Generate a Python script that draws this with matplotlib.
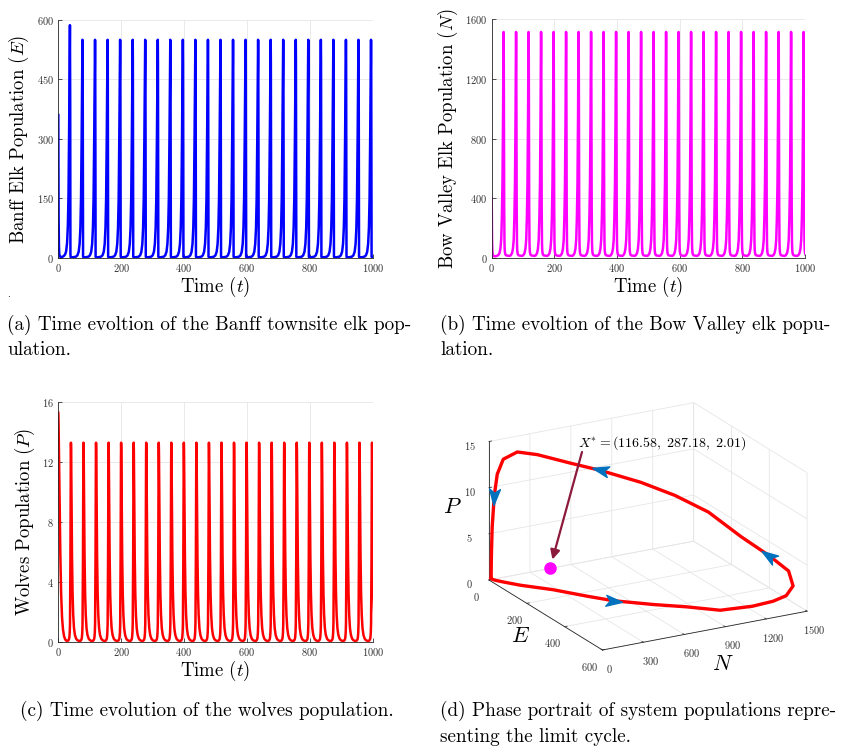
import numpy as np
import matplotlib
matplotlib.use("Agg")
import matplotlib.pyplot as plt
from matplotlib.markers import MarkerStyle
from matplotlib.path import Path
from mpl_toolkits.mplot3d import proj3d

plt.rcParams['font.family'] = 'cmr10'
plt.rcParams['mathtext.fontset'] = 'cm'
plt.rcParams['axes.formatter.use_mathtext'] = True
plt.rcParams['grid.color'] = '#e6e6e6'
plt.rcParams['grid.linewidth'] = 0.6

# start of the run, up to the first E peak (t, E, N, P)
start_t = [0.0, 0.4, 1.0, 2.0, 3.0, 4.5, 6.5, 9.0, 12.0, 15.0, 18.5, 22.0, 24.9,
           27.9, 30.4, 32.4, 33.7, 34.4, 35.2, 35.8, 36.3, 36.7, 37.0]
start_E = [360, 220, 100, 30, 10, 4, 2, 1.5, 2, 3, 5, 9, 16,
           37, 80, 157, 250, 320, 405, 478, 555, 585, 587]
start_N = [400, 250, 120, 45, 22, 14, 11, 10, 10, 11, 14, 20, 31,
           61, 124, 265, 395, 495, 675, 830, 975, 1170, 1320]
start_P = [15.3, 15.1, 14.4, 12.8, 11.0, 8.6, 5.8, 3.2, 1.6, 0.8, 0.35, 0.15, 0.08,
           0.06, 0.06, 0.1, 0.15, 0.2, 0.3, 0.45, 0.6, 0.8, 0.95]

# one period of the limit cycle, u = time inside the period
period = 39.9
first_cycle_start = 16.9
n_cycles = 25
cycle_u = [0, 4, 8, 11, 13.5, 15.5, 16.8, 17.5, 18.3, 18.9, 19.4, 19.8, 20.1,
           20.32, 20.55, 20.77, 21.0, 21.22, 21.44, 21.67, 21.96, 22.26, 22.56,
           22.93, 23.3, 23.9, 24.5, 25.3, 26.7, 28.5, 30.5, 33.0, 36.0]
cycle_E = [3, 6, 15, 35, 76, 149, 237, 302, 383, 450, 522, 548, 550,
           545, 526, 495, 389, 247, 100, 10, 3, 2, 1.5,
           1.2, 1, 1, 1, 1, 1, 1.1, 1.2, 1.5, 2]
cycle_N = [12, 16, 30, 60, 122, 262, 390, 491, 673, 829, 971, 1170, 1320,
           1423, 1500, 1510, 1515, 1505, 1470, 1350, 1110, 816, 596,
           353, 206, 103, 59, 37, 22, 17, 15, 14, 13]
cycle_P = [0.2, 0.1, 0.06, 0.05, 0.06, 0.1, 0.15, 0.2, 0.3, 0.45, 0.6, 0.8, 0.95,
           1.2, 1.8, 3.0, 3.3, 3.6, 4.5, 5.5, 7.5, 9.6, 11.0,
           12.6, 13.3, 12.8, 11.3, 9.0, 5.7, 3.2, 1.8, 0.9, 0.45]

arrow_idx = [7, 16, 21, 27]
X_star = (116.58, 287.18, 2.01)

# full time series: start segment then repeated periods
t_parts, E_parts, N_parts, P_parts = [start_t], [start_E], [start_N], [start_P]
for k in range(n_cycles):
    tt = first_cycle_start + k * period + np.array(cycle_u)
    keep = tt > start_t[-1]
    t_parts.append(tt[keep])
    E_parts.append(np.array(cycle_E)[keep])
    N_parts.append(np.array(cycle_N)[keep])
    P_parts.append(np.array(cycle_P)[keep])
t = np.concatenate(t_parts)
E = np.concatenate(E_parts)
N = np.concatenate(N_parts)
P = np.concatenate(P_parts)

W, H = 857, 754
fig = plt.figure(figsize=(W / 100, H / 100), dpi=100)


def rect(x0, y0, x1, y1):
    return [x0 / W, 1 - y1 / H, (x1 - x0) / W, (y1 - y0) / H]


def ts_panel(r, y, color, ymax, yticks, ylabel):
    ax = fig.add_axes(r)
    ax.plot(t, y, color=color, lw=1.8)
    ax.set_xlim(0, 1000)
    ax.set_ylim(0, ymax)
    ax.set_xticks(range(0, 1001, 200))
    ax.set_yticks(yticks)
    ax.grid(True)
    ax.set_axisbelow(True)
    ax.tick_params(direction='in', length=3, width=0.6, labelsize=7.5,
                   colors='#333333', pad=3)
    for s in ['top', 'right']:
        ax.spines[s].set_visible(False)
    for s in ['left', 'bottom']:
        ax.spines[s].set_color('#262626')
        ax.spines[s].set_linewidth(0.6)
    ax.set_xlabel('Time ($t$)', fontsize=13.5, labelpad=1)
    ax.set_ylabel(ylabel, fontsize=13.5, labelpad=4)
    return ax


ts_panel(rect(58.3, 20, 372.7, 257.7), E, '#0000ff', 600, [0, 150, 300, 450, 600],
         'Banff Elk Population ($E$)')
ts_panel(rect(491.7, 19.3, 805, 257.7), N, '#ff00ff', 1600, [0, 400, 800, 1200, 1600],
         'Bow Valley Elk Population ($N$)')
ts_panel(rect(58.3, 402.3, 372.7, 641.7), P, '#ff0000', 16, [0, 4, 8, 12, 16],
         'Wolves Population ($P$)')

# phase portrait
ax3 = fig.add_axes(rect(440, 380, 857, 690), projection='3d')
ax3.set_proj_type('ortho')
ax3.view_init(elev=20, azim=-29)
ax3.set_box_aspect((1, 1, 0.63))
ax3.computed_zorder = False
ax3.set_xlim(0, 600)
ax3.set_ylim(0, 1500)
ax3.set_zlim(0, 15)
ax3.set_xticks([0, 200, 400, 600])
ax3.set_yticks([0, 300, 600, 900, 1200, 1500])
ax3.set_zticks([0, 5, 10, 15])
for a in (ax3.xaxis, ax3.yaxis, ax3.zaxis):
    a.set_pane_color((1, 1, 1, 0))
    a.pane.set_edgecolor('#e6e6e6')
    a.line.set_color('#262626')
    a.line.set_linewidth(0.6)
    a._axinfo['tick'].update({'inward_factor': 0.0, 'outward_factor': 0.15,
                              'linewidth': {True: 0.6, False: 0.6}})
ax3.zaxis.set_ticks_position('lower')
ax3.zaxis.set_label_position('lower')
ax3.tick_params(labelsize=7.5, colors='#333333', pad=0)
ax3.set_xlabel('$E$', fontsize=16, labelpad=-5)
ax3.set_ylabel('$N$', fontsize=16, labelpad=0)
ax3.set_zlabel('$P$', fontsize=16, labelpad=-6)

loopE = cycle_E + cycle_E[:1]
loopN = cycle_N + cycle_N[:1]
loopP = cycle_P + cycle_P[:1]
ax3.plot(loopE, loopN, loopP, color='#ff0000', lw=2.4, zorder=2,
         solid_joinstyle='round')
ax3.plot([X_star[0]], [X_star[1]], [X_star[2]], 'o', color='#ff00ff',
         ms=8, zorder=3)


def to_disp(x, y, z):
    x2, y2, _ = proj3d.proj_transform(x, y, z, ax3.get_proj())
    return ax3.transData.transform((x2, y2))


# fit the projected box onto the reference box corners
fig.canvas.draw()
o1 = to_disp(0, 0, 0)
o2 = to_disp(600, 1500, 0)
t1 = np.array([489.0, H - 580.0])
t2 = np.array([807.0, H - 612.0])
s = np.linalg.norm(t2 - t1) / np.linalg.norm(o2 - o1)
bb = ax3.get_position()
c = np.array([(bb.x0 + bb.x1) / 2 * W, (bb.y0 + bb.y1) / 2 * H])
c_new = c + (t1 - (c + s * (o1 - c)))
w_new, h_new = bb.width * W * s, bb.height * H * s
ax3.set_position([(c_new[0] - w_new / 2) / W, (c_new[1] - h_new / 2) / H,
                  w_new / W, h_new / H])
fig.canvas.draw()

head = Path([(1, 0), (-0.8, 0.6), (-0.35, 0), (-0.8, -0.6), (1, 0)],
            [Path.MOVETO, Path.LINETO, Path.LINETO, Path.LINETO, Path.CLOSEPOLY])
for i in arrow_idx:
    p0 = to_disp(cycle_E[i], cycle_N[i], cycle_P[i])
    p1 = to_disp(cycle_E[i + 1], cycle_N[i + 1], cycle_P[i + 1])
    ang = np.degrees(np.arctan2(p1[1] - p0[1], p1[0] - p0[0]))
    ax3.plot([cycle_E[i]], [cycle_N[i]], [cycle_P[i]], linestyle='none',
             marker=MarkerStyle(head).rotated(deg=ang), ms=13,
             color='#0072bd', zorder=4)

star_px = to_disp(*X_star)
ax3.annotate('', xy=star_px, xycoords='figure pixels',
             xytext=(582, H - 452), textcoords='figure pixels',
             arrowprops=dict(arrowstyle='-|>', color='#8c1a3c', lw=1.6,
                             mutation_scale=14, shrinkA=0, shrinkB=6))
fig.text(578 / W, 1 - 443 / H, r'$X^{*} = (116.58,\ 287.18,\ 2.01)$',
         fontsize=10, ha='left', va='center')

# captions
cap = 13.8
fig.text(7 / W, 1 - 297 / H, '.', fontsize=7)
fig.text(7 / W, 1 - 325 / H, '(a) Time evoltion of the Banff townsite elk pop-',
         fontsize=cap, va='center')
fig.text(7 / W, 1 - 350 / H, 'ulation.', fontsize=cap, va='center')
fig.text(440 / W, 1 - 325 / H, '(b) Time evoltion of the Bow Valley elk popu-',
         fontsize=cap, va='center')
fig.text(440 / W, 1 - 350 / H, 'lation.', fontsize=cap, va='center')
fig.text(20 / W, 1 - 711 / H, '(c) Time evolution of the wolves population.',
         fontsize=cap, va='center')
fig.text(440 / W, 1 - 711 / H, '(d) Phase portrait of system populations repre-',
         fontsize=cap, va='center')
fig.text(440 / W, 1 - 737 / H, 'senting the limit cycle.', fontsize=cap, va='center')

fig.savefig('out.png', dpi=100)
